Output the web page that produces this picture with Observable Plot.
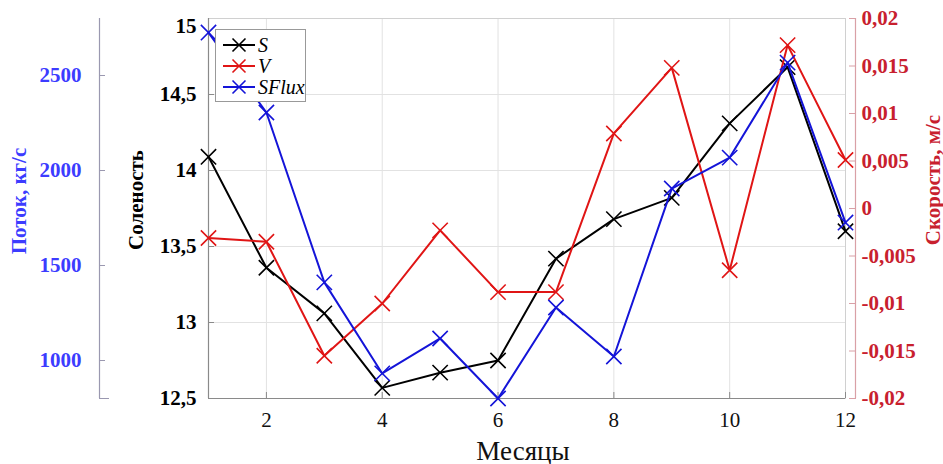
<!DOCTYPE html>
<html><head><meta charset="utf-8">
<script src="https://cdn.jsdelivr.net/npm/d3@7"></script>
<script src="https://cdn.jsdelivr.net/npm/@observablehq/plot@0.6"></script>
<style>
body{margin:0;background:#fff;}
#wrap{position:relative;width:943px;height:464px;font-family:"Liberation Serif","Times New Roman",serif;}
#wrap svg.plt{position:absolute;left:0;top:0;}
#wrap svg.plt text{font-family:"Liberation Serif","Times New Roman",serif;}
.lab{position:absolute;white-space:nowrap;transform:translate(-50%,-50%) rotate(-90deg);font-weight:bold;font-size:21px;line-height:1;font-family:"Liberation Serif","Times New Roman",serif;}
#xlab{position:absolute;left:523px;top:451px;transform:translate(-50%,-50%);font-size:27px;line-height:1;white-space:nowrap;font-family:"Liberation Serif","Times New Roman",serif;}
#legend{position:absolute;left:215px;top:29px;width:91px;height:73px;background:#fff;border:1px solid #999;box-sizing:border-box;font-family:"Liberation Serif","Times New Roman",serif;}
#legend .row{position:absolute;left:6px;height:20px;display:flex;align-items:center;font-style:italic;font-size:20px;}
#legend svg{margin-right:2px;}
</style></head><body>
<div id="wrap"></div>
<script>
const months = [1,2,3,4,5,6,7,8,9,10,11,12];
const salinity = [14.09,13.36,13.06,12.57,12.67,12.75,13.42,13.68,13.82,14.31,14.68,13.60];
const velocity = [-0.0031,-0.0035,-0.0155,-0.0100,-0.0023,-0.0088,-0.0088,0.0079,0.0148,-0.0065,0.0172,0.0051];
const sflux = [2726,2305,1411,932,1116,800,1279,1021,1905,2068,2568,1726];

const monthTicks = [2,4,6,8,10,12];
const salinityTicks = [12.5,13,13.5,14,14.5,15];
const velocityTicks = [-0.02,-0.015,-0.01,-0.005,0,0.005,0.01,0.015,0.02];
const fluxTicks = [1000,1500,2000,2500];
const seriesNames = ["S","V","SFlux"];
const seriesColors = ["#000000","#e01515","#1414d8"];

const salinityDomain = [12.5,15];
const velocityDomain = [-0.02,0.02];
const fluxDomain = [800,2800];

const FONT = "Liberation Serif";
const fmt = d => String(d).replace(".", ",");
const W = 943, H = 464;
const common = {
  width: W, height: H,
  marginTop: 18, marginBottom: 66, marginLeft: 208, marginRight: 98,
  style: {background: "transparent", fontFamily: FONT, overflow: "visible"}
};
const toRows = vals => months.map((m,i) => ({month: m, value: vals[i]}));
const seriesMarks = (vals, color) => [
  Plot.line(toRows(vals), {x: "month", y: "value", stroke: color, strokeWidth: 2}),
  Plot.dot(toRows(vals), {x: "month", y: "value", symbol: "times", r: 7, stroke: color, strokeWidth: 1.6})
];

const p1 = Plot.plot({
  ...common,
  x: {domain: [1,12]},
  y: {domain: salinityDomain},
  marks: [
    Plot.gridX(monthTicks, {stroke: "#e2e2e2", strokeOpacity: 1}),
    Plot.gridY(salinityTicks, {stroke: "#e2e2e2", strokeOpacity: 1}),
    Plot.frame({stroke: "#d0d0d0"}),
    Plot.ruleX([1], {stroke: "#8a8a8a", strokeWidth: 1.2}),
    Plot.ruleY([12.5], {stroke: "#8a8a8a", strokeWidth: 1.2}),
    Plot.axisX(monthTicks, {anchor: "bottom", tickSize: 6, insetBottom: 6, tickPadding: 14, stroke: "#8a8a8a", fill: "#111", fontSize: 21, fontFamily: FONT, tickFormat: fmt, label: null}),
    Plot.axisY(salinityTicks.slice(0, -1), {anchor: "left", tickSize: 6, insetLeft: 6, tickPadding: 12, stroke: "#8a8a8a", fill: "#000", fontSize: 21, fontWeight: "bold", fontFamily: FONT, tickFormat: fmt, label: null}),
    Plot.axisY(salinityTicks.slice(-1), {anchor: "left", tickSize: 6, insetLeft: 6, tickPadding: 12, dy: 8, stroke: "none", fill: "#000", fontSize: 21, fontWeight: "bold", fontFamily: FONT, tickFormat: fmt, label: null}),
    ...seriesMarks(salinity, seriesColors[0])
  ]
});

const p2 = Plot.plot({
  ...common,
  x: {domain: [1,12], axis: null},
  y: {domain: velocityDomain},
  marks: [
    Plot.ruleX([12], {dx: 10, stroke: "#d9a0a6", strokeWidth: 1.2}),
    Plot.axisY(velocityTicks, {anchor: "right", dx: 10, tickSize: 7, insetRight: 7, tickPadding: 6, stroke: "#d9a0a6", fill: "#c8202e", fontSize: 21, fontWeight: "bold", fontFamily: FONT, tickFormat: fmt, label: null}),
    ...seriesMarks(velocity, seriesColors[1])
  ]
});

const p3 = Plot.plot({
  ...common,
  x: {domain: [1,12], axis: null},
  y: {domain: fluxDomain},
  marks: [
    Plot.ruleX([1], {dx: -109, stroke: "#9a98b0", strokeWidth: 1.2}),
    Plot.axisY(fluxTicks, {anchor: "left", dx: -109, tickSize: 6, insetLeft: 6, tickPadding: 18, stroke: "#9a98b0", fill: "#3c3cff", fontSize: 21, fontWeight: "bold", fontFamily: FONT, tickFormat: fmt, label: null}),
    Plot.axisY([800], {anchor: "left", dx: -109, tickSize: 10, insetLeft: 10, stroke: "#9a98b0", tickFormat: () => "", label: null}),
    ...seriesMarks(sflux, seriesColors[2])
  ]
});

const wrap = document.getElementById("wrap");
for (const p of [p1, p2, p3]) { p.classList.add("plt"); wrap.appendChild(p); }

function addLabel(text, x, y, color) {
  const d = document.createElement("div");
  d.className = "lab"; d.textContent = text;
  d.style.left = x + "px"; d.style.top = y + "px"; d.style.color = color;
  wrap.appendChild(d);
}
addLabel("Поток, кг/с", 19, 201, "#3c3cff");
addLabel("Соленость", 136, 200, "#000");
addLabel("Скорость, м/с", 933, 180, "#c8202e");

const xl = document.createElement("div");
xl.id = "xlab"; xl.textContent = "Месяцы"; xl.style.color = "#111";
wrap.appendChild(xl);

const lg = document.createElement("div");
lg.id = "legend";
seriesNames.forEach((name, i) => {
  const r = document.createElement("div");
  r.className = "row";
  r.style.top = (5 + i * 21) + "px";
  const ns = "http://www.w3.org/2000/svg";
  const s = document.createElementNS(ns, "svg");
  s.setAttribute("width", 34); s.setAttribute("height", 18);
  const c = seriesColors[i];
  s.innerHTML = `<line x1="1" y1="9" x2="33" y2="9" stroke="${c}" stroke-width="2"/>` +
    `<path d="M10.5 2.5L23.5 15.5M23.5 2.5L10.5 15.5" stroke="${c}" stroke-width="1.6" fill="none"/>`;
  r.appendChild(s);
  const t = document.createElement("span");
  t.textContent = name;
  r.appendChild(t);
  lg.appendChild(r);
});
wrap.appendChild(lg);
</script>
</body></html>
